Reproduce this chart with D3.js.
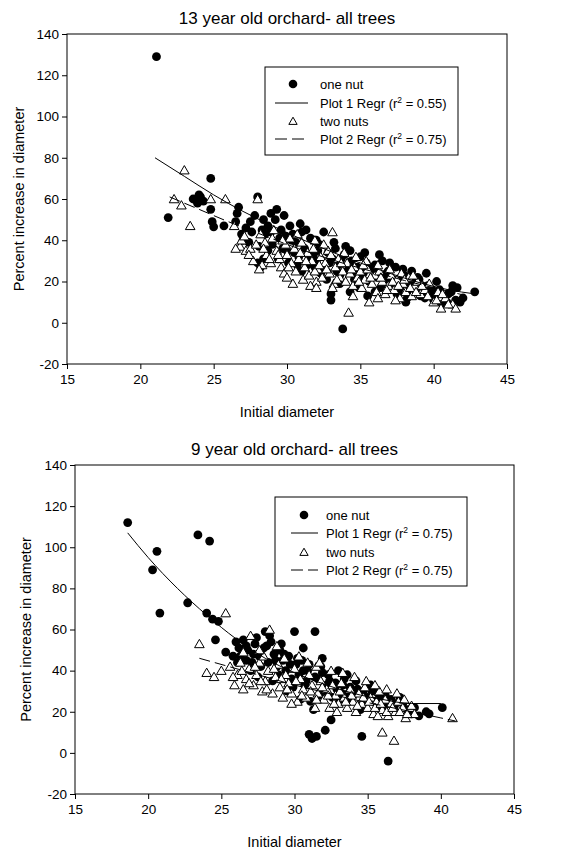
<!DOCTYPE html>
<html><head><meta charset="utf-8">
<script src="https://cdn.jsdelivr.net/npm/d3@7"></script>
<style>body{margin:0;background:#fff}svg{display:block}text{font-family:Arial,"Liberation Sans",sans-serif;fill:#000}</style>
</head><body>
<script>
// ---- data ----
const xTicks = [15,20,25,30,35,40,45];
const yTicks = [-20,0,20,40,60,80,100,120,140];
const titles = ["13 year old orchard- all trees","9 year old orchard- all trees"];
const xLabel = "Initial diameter";
const yLabel = "Percent increase in diameter";
const legendNames = ["one nut","Plot 1 Regr","two nuts","Plot 2 Regr"];
const r2Top = [0.55,0.75];
const r2Bottom = [0.75,0.75];

// 13 year old orchard
const top1 = [[21.1,129],[21.9,51],[23.6,60],[23.9,58],[24.1,61],[24.3,59],[24.0,62],[24.8,70],[24.8,55],[24.9,49],[25.0,46.5],[25.7,47],[26.5,49],[26.6,53],[26.7,56],[27.0,40],[27.2,46],[27.5,49],[27.6,44],[28.0,61],[28.0,29],[28.2,27],[28.4,31],[28.3,45],[28.5,43],[28.7,47],[29.0,38],[29.2,50],[29.5,41],[29.6,45],[29.8,52],[30.0,35],[30.2,47],[30.4,43],[30.6,39],[30.8,32],[31.0,44],[31.2,36],[31.4,28],[31.6,41],[31.8,33],[32.0,30],[32.2,38],[32.4,26],[32.5,44],[32.8,34],[33.0,14],[33.0,11],[33.1,31],[33.3,36],[33.5,28],[33.6,23],[33.8,-3],[33.9,33],[34.1,25],[34.3,35],[34.4,30],[34.6,21],[34.8,27],[35.0,32],[35.2,24],[35.4,29],[35.6,20],[35.8,26],[36.0,28],[36.2,22],[36.5,30],[36.6,18],[36.9,25],[37.2,21],[37.4,27],[37.7,17],[38.0,23],[38.3,19],[38.5,25],[38.8,15],[39.0,21],[39.2,18],[39.5,24],[39.8,14],[40.0,11],[40.2,20],[40.4,16],[40.6,9],[41.0,14],[41.3,18],[41.5,11],[41.6,17],[41.8,10],[42.0,12],[42.8,15],[27.8,52],[29.3,55],[30.9,48],[31.3,45],[32.0,40],[33.2,39],[34.0,37],[35.3,34],[36.3,33],[37.0,29],[37.5,14],[38.2,12],[39.3,16],[40.8,13],[30.1,29],[31.0,25],[29.4,31],[28.7,35],[32.7,21],[34.9,17],[36.0,15],[36.8,24],[37.9,26],[38.9,22],[39.9,16],[26.9,43],[27.4,39],[28.1,37],[28.9,44],[29.7,36],[30.3,40],[30.7,28],[31.5,31],[32.1,35],[32.9,29],[33.4,25],[33.7,31],[34.2,28],[34.7,24],[35.1,22],[35.7,27],[36.1,25],[36.7,21],[37.3,19],[37.8,22],[38.4,16],[38.7,20],[39.1,13],[39.6,18],[40.1,14],[40.9,10],[41.2,15],[32.3,24],[33.6,19],[34.3,15],[35.5,13],[36.4,17],[37.6,15],[38.1,10],[39.4,12],[31.9,27],[30.5,34],[29.9,42],[28.9,53],[28.4,50]];
const top2 = [[22.3,60],[23.0,74],[22.8,57],[23.4,47],[24.8,60],[25.8,60],[26.4,47],[26.8,37],[26.9,40],[27.2,35],[27.7,30],[28.0,60],[28.2,43],[28.5,39],[28.6,33],[28.9,29],[29.1,45],[29.3,35],[29.5,31],[29.6,27],[29.8,24],[29.9,38],[30.0,33],[30.2,41],[30.3,29],[30.5,36],[30.6,25],[30.8,31],[31.0,39],[31.1,21],[31.2,27],[31.4,34],[31.5,23],[31.7,30],[31.8,36],[32.0,20],[32.1,26],[32.3,32],[32.4,22],[32.6,29],[32.8,35],[32.9,24],[33.1,44],[33.2,19],[33.3,27],[33.5,31],[33.6,22],[33.8,25],[34.0,20],[34.1,29],[34.2,5],[34.3,24],[34.5,18],[34.6,27],[34.8,22],[35.0,25],[35.1,17],[35.3,21],[35.5,26],[35.6,10],[35.8,19],[36.0,23],[36.1,15],[36.3,25],[36.5,20],[36.7,14],[36.9,18],[37.1,23],[37.3,16],[37.5,21],[37.7,12],[37.9,19],[38.1,15],[38.3,22],[38.5,13],[38.7,18],[38.9,20],[39.1,14],[39.4,16],[39.7,19],[40.0,10],[40.3,15],[40.5,7],[40.8,12],[41.3,9],[41.5,7],[29.0,41],[30.7,43],[31.9,40],[32.5,38],[33.9,34],[34.7,32],[35.4,30],[36.2,28],[37.0,26],[37.8,24],[38.6,23],[27.5,36],[28.3,28],[30.4,19],[31.6,18],[27.1,42],[27.9,38],[28.4,36],[28.8,31],[29.4,33],[29.7,40],[30.1,27],[30.9,34],[31.3,30],[31.9,25],[32.2,28],[32.7,26],[33.0,33],[33.4,21],[33.7,29],[34.4,26],[34.9,20],[35.2,28],[35.7,22],[36.4,22],[36.8,16],[37.2,20],[37.6,18],[38.0,21],[38.4,17],[38.8,15],[39.2,18],[39.6,13],[40.2,11],[40.6,14],[41.0,9],[30.0,22],[32.0,17],[33.1,17],[34.5,13],[36.2,12],[37.4,11],[26.5,36],[27.4,33],[28.1,26]];
const topFit1 = [[21,80],[23,71],[25,62],[27,54],[29,47],[31,40.5],[33,34.5],[35,29],[37,24],[39,19.5],[41,16],[42.8,14]];
const topFit2 = [[22,61],[24,55],[26,49],[28,43.5],[30,38],[32,33],[34,28.5],[36,24.5],[38,20.5],[40,17],[42,13.5]];

// 9 year old orchard
const bot1 = [[18.6,112],[20.3,89],[20.6,98],[20.8,68],[22.7,73],[23.4,106],[24.2,103],[24.0,68],[24.4,65],[24.8,64],[24.6,55],[25.3,49],[26.0,54],[25.8,47],[26.2,51],[26.5,55],[26.8,50],[27.1,44],[27.3,53],[27.6,47],[27.9,51],[28.0,59],[28.2,44],[28.4,54],[28.6,48],[28.8,42],[29.0,50],[29.2,45],[29.4,40],[29.6,47],[29.8,36],[30.0,59],[30.1,43],[30.3,38],[30.5,45],[30.7,33],[30.9,40],[31.0,9],[31.2,7],[31.4,59],[31.5,8],[31.1,25],[31.6,36],[31.8,42],[32.0,30],[32.1,11],[32.3,38],[32.5,16],[32.6,27],[32.8,34],[33.0,40],[33.2,29],[33.4,36],[33.6,25],[33.8,32],[34.0,28],[34.2,35],[34.4,23],[34.6,8],[34.7,30],[35.0,27],[35.2,33],[35.5,25],[35.7,29],[36.0,22],[36.2,28],[36.4,-4],[36.6,26],[36.9,24],[37.2,27],[37.7,21],[38.0,19],[38.5,18],[39.0,20],[39.2,19],[40.1,22],[27.0,40],[28.5,35],[29.5,30],[30.4,26],[31.3,21],[28.3,57],[27.4,56],[26.3,47],[29.1,53],[26.1,44],[26.7,52],[27.2,48],[27.7,42],[28.1,52],[28.7,45],[29.3,48],[29.7,43],[30.2,46],[30.6,40],[31.0,43],[31.4,37],[31.9,39],[32.4,35],[32.9,31],[33.3,33],[33.7,29],[34.3,31],[34.8,26],[35.3,30],[35.9,26],[36.3,24],[36.8,22],[37.4,24],[38.2,22],[29.9,32],[31.7,28],[33.1,26],[34.5,21],[35.8,23],[27.5,37],[26.7,45],[28.9,38],[30.8,35],[32.2,33],[30.6,51],[31.9,46],[33.6,38]];
const bot2 = [[23.5,53],[24.0,39],[24.5,37],[25.0,40],[25.3,68],[25.6,42],[25.9,33],[26.1,38],[26.3,44],[26.5,31],[26.7,36],[26.9,41],[27.0,57],[27.2,33],[27.4,38],[27.6,44],[27.8,30],[28.0,35],[28.2,40],[28.3,60],[28.5,29],[28.7,37],[28.9,43],[29.0,32],[29.2,27],[29.4,38],[29.6,34],[29.8,29],[30.0,41],[30.2,25],[30.4,36],[30.6,31],[30.8,27],[31.0,38],[31.2,33],[31.4,22],[31.6,29],[31.8,35],[32.0,26],[32.2,31],[32.4,22],[32.6,33],[32.8,28],[33.0,24],[33.2,34],[33.4,27],[33.6,22],[33.8,31],[34.0,25],[34.2,20],[34.4,29],[34.6,24],[34.8,32],[35.0,22],[35.2,27],[35.4,19],[35.6,25],[35.8,30],[36.0,10],[36.0,21],[36.2,26],[36.4,18],[36.6,24],[36.8,6],[36.9,20],[37.1,25],[37.4,22],[37.6,17],[37.9,22],[38.2,19],[40.8,17],[29.3,46],[30.9,44],[32.5,40],[34.1,37],[35.5,33],[37.0,29],[27.9,47],[26.5,49],[31.5,42],[25.8,37],[26.4,40],[26.9,34],[27.3,42],[27.7,35],[28.1,31],[28.6,41],[29.1,36],[29.5,31],[30.1,35],[30.5,28],[31.1,30],[31.5,26],[31.9,32],[32.3,28],[32.7,24],[33.1,30],[33.5,25],[33.9,28],[34.3,23],[34.7,27],[35.1,25],[35.5,22],[35.9,24],[36.3,20],[36.7,22],[37.2,20],[37.7,19],[38.0,23],[27.6,50],[28.8,52],[30.3,47],[31.7,44],[33.3,39],[34.9,35],[36.3,31],[37.5,26],[29.8,24],[32.9,20],[35.7,18]];
const botFit1 = [[18.6,107],[20,95],[22,80],[24,67],[26,55.5],[28,46],[30,39],[32,33.5],[34,29],[36,26],[38,24],[40,24]];
const botFit2 = [[23.5,46],[26,41],[28,37],[30,33],[32,29.5],[34,26],[36,23],[38,20],[40,17],[41,15.5]];

const W = 561, H = 851;
const FONT = "Arial, 'Liberation Sans', sans-serif";
const svg = d3.select("body").append("svg").attr("width",W).attr("height",H);

const charts = [
  {title:titles[0], x0:67, x1:507, y0:34, y1:364, titleY:24, xLabY:417, yLabX:24, s1:top1, s2:top2, f1:topFit1, f2:topFit2, r2:r2Top,
   leg:{x:265,y:67,w:193,h:88,mx:293,lx0:275,lx1:308,tx:320,rows:[84,103,121,139]}},
  {title:titles[1], x0:75, x1:514, y0:465, y1:794, titleY:455, xLabY:847, yLabX:31, s1:bot1, s2:bot2, f1:botFit1, f2:botFit2, r2:r2Bottom,
   leg:{x:275,y:497,w:192,h:89,mx:304,lx0:291,lx1:318,tx:326,rows:[515,533,552,570]}}
];

const tri = d3.symbol().type(d3.symbolTriangle).size(40);
const fmt = d => String(d);

charts.forEach(c => {
  const x = d3.scaleLinear().domain([15,45]).range([c.x0,c.x1]);
  const y = d3.scaleLinear().domain([-20,140]).range([c.y1,c.y0]);
  const g = svg.append("g");

  const xa = g.append("g").attr("transform",`translate(0,${c.y1})`)
    .call(d3.axisBottom(x).tickValues(xTicks).tickSize(5).tickPadding(5).tickFormat(fmt));
  const ya = g.append("g").attr("transform",`translate(${c.x0},0)`)
    .call(d3.axisLeft(y).tickValues(yTicks).tickSize(5).tickPadding(3).tickFormat(fmt));
  [xa,ya].forEach(a=>{
    a.select(".domain").remove();
    a.selectAll("line").attr("stroke","#000");
    a.selectAll("text").attr("font-size",13.5).attr("font-family",FONT).attr("fill","#000");
  });
  g.append("rect").attr("x",c.x0).attr("y",c.y0).attr("width",c.x1-c.x0).attr("height",c.y1-c.y0)
    .attr("fill","none").attr("stroke","#000").attr("stroke-width",1);

  g.append("text").attr("x",(c.x0+c.x1)/2).attr("y",c.titleY).attr("text-anchor","middle").attr("font-size",17).text(c.title);
  g.append("text").attr("x",(c.x0+c.x1)/2).attr("y",c.xLabY).attr("text-anchor","middle").attr("font-size",14.5).text(xLabel);
  g.append("text").attr("transform",`translate(${c.yLabX},${(c.y0+c.y1)/2}) rotate(-90)`).attr("text-anchor","middle").attr("font-size",14.5).text(yLabel);

  const line = d3.line().x(d=>x(d[0])).y(d=>y(d[1])).curve(d3.curveMonotoneX);

  g.append("g").selectAll("circle").data(c.s1).join("circle")
    .attr("cx",d=>x(d[0])).attr("cy",d=>y(d[1])).attr("r",4.4).attr("fill","#000");
  g.append("g").selectAll("path").data(c.s2).join("path")
    .attr("d",tri).attr("transform",d=>`translate(${x(d[0])},${y(d[1])+1})`)
    .attr("fill","#fff").attr("stroke","#000").attr("stroke-width",1);
  g.append("path").datum(c.f1).attr("d",line).attr("fill","none").attr("stroke","#000").attr("stroke-width",1);
  g.append("path").datum(c.f2).attr("d",line).attr("fill","none").attr("stroke","#000").attr("stroke-width",1).attr("stroke-dasharray","11,5");

  const L = c.leg;
  const lg = g.append("g");
  lg.append("rect").attr("x",L.x).attr("y",L.y).attr("width",L.w).attr("height",L.h).attr("fill","#fff").attr("stroke","#000");
  lg.append("circle").attr("cx",L.mx).attr("cy",L.rows[0]).attr("r",4.3).attr("fill","#000");
  lg.append("line").attr("x1",L.lx0).attr("x2",L.lx1).attr("y1",L.rows[1]).attr("y2",L.rows[1]).attr("stroke","#000");
  lg.append("path").attr("d",d3.symbol().type(d3.symbolTriangle).size(30)).attr("transform",`translate(${L.mx},${L.rows[2]+1})`).attr("fill","#fff").attr("stroke","#000");
  lg.append("line").attr("x1",L.lx0).attr("x2",L.lx1).attr("y1",L.rows[3]).attr("y2",L.rows[3]).attr("stroke","#000").attr("stroke-dasharray","12,5");
  L.rows.forEach((ry,i)=>{
    const t = lg.append("text").attr("x",L.tx).attr("y",ry+4.5).attr("font-size",13);
    if(i===0||i===2){ t.text(legendNames[i]); }
    else {
      const k = i===1?0:1;
      t.append("tspan").text(legendNames[i]+" (r");
      t.append("tspan").attr("font-size",8.5).attr("dy",-5).text("2");
      t.append("tspan").attr("dy",5).text(" = "+c.r2[k].toFixed(2)+")");
    }
  });
});
</script>
</body></html>
